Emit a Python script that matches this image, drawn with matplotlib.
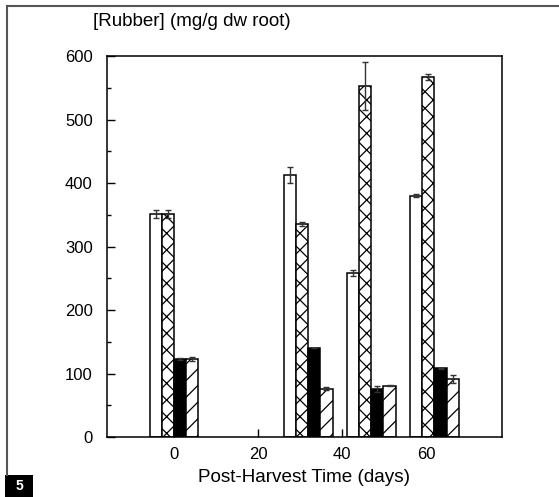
import matplotlib
matplotlib.use('Agg')
import matplotlib.pyplot as plt
from matplotlib.ticker import MultipleLocator
from matplotlib.lines import Line2D
import numpy as np

plt.rcParams['font.family'] = ['Liberation Sans', 'DejaVu Sans']
plt.rcParams['hatch.linewidth'] = 0.9

# data
days = [0, 32, 47, 62]
series_a = [351, 413, 258, 380]      # open bars
series_a_err = [6, 13, 5, 2]
series_b = [351, 336, 553, 567]      # cross-hatched
series_b_err = [6, 3, 38, 4]
series_c = [123, 140, 76, 108]       # solid black
series_c_err = [2, 0, 5, 1]
series_d = [123, 76, 81, 91]         # diagonal hatch
series_d_err = [3, 2, 1, 6]

xticks = [0, 20, 40, 60]
yticks = [0, 100, 200, 300, 400, 500, 600]

fig = plt.figure(figsize=(5.59, 4.97), dpi=100)
ax = fig.add_axes([0.1909, 0.1207, 0.7066, 0.7666])

w = 2.87
x = np.array(days, dtype=float)
styles = [
    (series_a, series_a_err, 'white', ''),
    (series_b, series_b_err, 'white', 'xx'),
    (series_c, series_c_err, 'black', ''),
    (series_d, series_d_err, 'white', '//'),
]
for i, (vals, errs, fc, hatch) in enumerate(styles):
    pos = x + (i - 1.5) * w
    ax.bar(pos, vals, width=w, facecolor=fc, edgecolor='black',
           hatch=hatch, linewidth=1.1, zorder=2)
    ax.errorbar(pos, vals, yerr=errs, fmt='none', ecolor='#333333',
                elinewidth=1.0, capsize=2, capthick=1.0, zorder=3)

ax.set_xlim(-16, 78)
ax.set_ylim(0, 600)
ax.set_xticks(xticks)
ax.set_yticks(yticks)
ax.yaxis.set_minor_locator(MultipleLocator(50))
ax.tick_params(axis='both', which='major', direction='in', length=6,
               width=1, labelsize=12)
ax.tick_params(axis='x', which='major', pad=7)
ax.tick_params(axis='y', which='major', pad=10)
ax.tick_params(axis='y', which='minor', direction='in', length=3, width=1)
for s in ax.spines.values():
    s.set_linewidth(1.1)

fig.text(192 / 559, 1 - 22 / 497, '[Rubber] (mg/g dw root)', fontsize=13.5,
         ha='center', va='center')
fig.text(304 / 559, 1 - 477 / 497, 'Post-Harvest Time (days)', fontsize=13.6,
         ha='center', va='center')

# frame around the panel (open at right and bottom)
fig.add_artist(Line2D([7 / 559, 1.0], [1 - 6 / 497, 1 - 6 / 497],
                      color='#555555', lw=1.5, transform=fig.transFigure))
fig.add_artist(Line2D([7 / 559, 7 / 559], [1 - 6 / 497, 1 - 475 / 497],
                      color='#555555', lw=1.5, transform=fig.transFigure))
fig.patches.append(plt.Rectangle((5 / 559, 0), 28 / 559, 22 / 497,
                                 facecolor='black', edgecolor='none',
                                 transform=fig.transFigure, figure=fig))
fig.text(19 / 559, 11 / 497, '5', color='white', fontsize=10,
         fontweight='bold', ha='center', va='center')

fig.savefig('out.png', dpi=100)
